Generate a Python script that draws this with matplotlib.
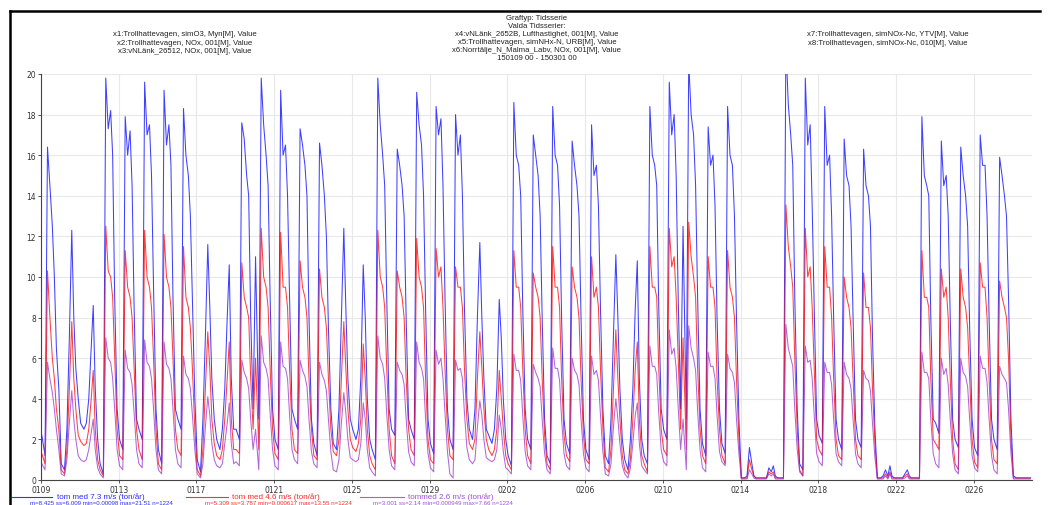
import numpy as np
import matplotlib.pyplot as plt
import matplotlib.dates as mdates
from matplotlib.lines import Line2D

# time series 150109 00 - 150301 00, values read per day at fixed hours
start = np.datetime64("2015-01-09T00:00")
end = np.datetime64("2015-03-01T00:00")
sample_hours = [1, 5, 8, 11, 14, 16.5, 19, 22]

# tom med 7.3 m/s (ton/år)
blue_73 = [
    [2.2, 1.2, 16.4, 14.5, 12.5, 10.0, 6.5, 4.5],
    [0.8, 0.5, 2.5, 7.0, 12.3, 8.0, 5.5, 4.0],
    [2.8, 2.5, 2.8, 4.0, 6.5, 8.6, 4.5, 2.0],
    [0.8, 0.3, 19.8, 17.3, 18.2, 16.0, 9.0, 3.5],
    [2.0, 1.5, 17.9, 16.0, 17.2, 14.5, 8.5, 3.0],
    [2.5, 2.0, 19.6, 17.0, 17.5, 15.0, 9.5, 3.5],
    [1.5, 0.8, 19.2, 16.5, 17.5, 15.5, 9.0, 3.5],
    [3.0, 2.5, 18.3, 16.0, 15.0, 13.0, 9.0, 4.0],
    [1.0, 0.4, 3.0, 7.0, 11.6, 8.5, 5.0, 3.0],
    [2.0, 1.5, 2.5, 4.5, 8.0, 10.6, 5.0, 2.5],
    [2.5, 2.0, 17.6, 16.8, 15.0, 14.0, 8.0, 3.5],
    [11.0, 3.0, 19.8, 17.5, 16.0, 14.5, 9.0, 3.5],
    [2.0, 1.5, 19.2, 16.0, 16.5, 14.0, 9.0, 3.5],
    [3.0, 2.5, 17.3, 16.5, 15.5, 14.0, 8.0, 3.0],
    [1.8, 1.2, 16.6, 15.5, 14.0, 12.0, 7.5, 3.5],
    [1.8, 1.5, 3.5, 8.0, 12.4, 8.5, 5.0, 3.0],
    [2.5, 2.0, 2.5, 5.0, 10.6, 8.0, 4.0, 2.0],
    [1.5, 1.0, 19.8, 17.5, 16.0, 14.5, 9.0, 3.5],
    [2.5, 2.2, 16.3, 15.5, 14.5, 13.0, 8.0, 3.0],
    [2.5, 2.0, 19.1, 17.5, 16.5, 14.0, 8.5, 3.0],
    [1.8, 1.3, 18.4, 17.0, 17.8, 14.5, 9.0, 3.5],
    [2.0, 1.5, 18.0, 16.0, 17.0, 14.0, 8.5, 4.0],
    [2.5, 2.0, 3.5, 8.0, 11.7, 8.0, 5.0, 2.5],
    [2.2, 1.8, 2.5, 4.5, 8.9, 7.0, 4.0, 2.0],
    [1.2, 0.7, 18.6, 16.0, 15.5, 14.0, 8.5, 3.5],
    [2.0, 1.5, 17.0, 16.0, 15.0, 13.0, 8.0, 3.0],
    [1.2, 0.8, 18.4, 16.0, 15.5, 13.5, 8.0, 3.0],
    [1.8, 1.3, 16.7, 15.5, 14.5, 13.0, 8.0, 3.0],
    [1.5, 1.0, 17.5, 15.0, 15.5, 13.5, 8.5, 3.5],
    [1.2, 0.8, 3.0, 7.0, 11.1, 8.0, 4.5, 2.0],
    [1.0, 0.5, 2.0, 4.5, 8.5, 10.8, 5.0, 2.0],
    [1.2, 0.8, 18.4, 16.0, 15.5, 14.5, 8.5, 3.5],
    [2.5, 2.0, 19.6, 17.0, 18.0, 15.0, 9.0, 3.5],
    [12.5, 3.0, 20.6, 18.0, 17.0, 14.5, 9.0, 3.5],
    [1.8, 1.2, 17.4, 15.5, 16.0, 13.5, 8.0, 3.5],
    [1.8, 1.3, 18.4, 16.0, 15.5, 13.0, 8.0, 3.0],
    [0.1, 0.1, 0.2, 1.6, 0.8, 0.2, 0.1, 0.1],
    [0.1, 0.1, 0.1, 0.6, 0.4, 0.7, 0.2, 0.1],
    [0.1, 0.1, 21.5, 18.5, 17.0, 15.5, 9.0, 3.5],
    [0.8, 0.5, 19.8, 16.5, 17.5, 13.5, 8.5, 3.0],
    [2.2, 1.8, 18.4, 15.5, 16.0, 13.0, 8.0, 3.0],
    [2.0, 1.5, 16.8, 15.0, 14.5, 12.5, 8.0, 3.0],
    [2.0, 1.6, 16.3, 14.5, 14.0, 12.5, 7.0, 2.5],
    [0.1, 0.1, 0.2, 0.5, 0.2, 0.7, 0.2, 0.1],
    [0.1, 0.1, 0.1, 0.3, 0.5, 0.2, 0.1, 0.1],
    [0.1, 0.1, 17.9, 15.0, 14.5, 14.0, 8.0, 3.0],
    [2.8, 2.3, 16.7, 14.5, 15.0, 13.0, 8.0, 3.0],
    [2.0, 1.6, 16.4, 15.0, 14.0, 12.5, 7.5, 3.0],
    [1.6, 1.2, 17.0, 15.5, 15.5, 13.0, 8.0, 3.0],
    [2.0, 1.5, 15.9, 15.0, 14.0, 13.0, 9.0, 3.0],
    [0.2, 0.1, 0.1, 0.1, 0.1, 0.1, 0.1, 0.1],
]

# tom med 4.6 m/s (ton/år)
red_46 = [
    [1.3, 0.8, 10.3, 8.0, 6.0, 5.0, 3.5, 2.5],
    [0.5, 0.3, 1.5, 4.5, 7.8, 5.0, 3.5, 2.2],
    [1.9, 1.7, 1.8, 2.5, 4.0, 5.4, 2.5, 1.0],
    [0.5, 0.2, 12.5, 10.3, 10.0, 9.0, 6.0, 2.5],
    [1.2, 1.0, 11.3, 9.5, 9.0, 8.0, 5.5, 2.5],
    [1.5, 1.0, 12.3, 10.0, 9.5, 8.5, 6.0, 2.5],
    [0.8, 0.5, 12.1, 10.0, 9.5, 8.5, 6.0, 2.5],
    [1.5, 1.2, 11.5, 9.0, 8.5, 7.5, 5.5, 2.5],
    [0.5, 0.2, 1.5, 4.5, 7.3, 5.5, 3.0, 1.8],
    [1.2, 1.0, 1.5, 3.0, 5.0, 6.8, 3.0, 1.5],
    [1.5, 1.3, 10.7, 9.0, 8.5, 8.0, 5.0, 2.5],
    [6.0, 1.5, 12.4, 10.0, 9.5, 8.5, 5.5, 2.5],
    [1.3, 1.0, 12.2, 9.5, 9.5, 8.5, 5.5, 2.5],
    [1.5, 1.3, 10.8, 9.5, 9.0, 8.0, 5.0, 2.5],
    [1.2, 1.0, 10.4, 9.0, 8.5, 7.5, 5.0, 2.5],
    [1.4, 1.2, 2.0, 5.0, 7.8, 5.5, 3.5, 2.0],
    [1.6, 1.4, 1.8, 3.0, 6.7, 5.0, 2.5, 1.2],
    [0.8, 0.5, 12.3, 10.0, 9.5, 8.5, 5.5, 2.5],
    [1.2, 0.8, 10.3, 9.5, 9.0, 8.0, 5.0, 2.5],
    [1.5, 1.2, 11.9, 10.0, 9.5, 8.5, 5.0, 2.0],
    [1.0, 0.8, 11.4, 10.0, 10.5, 8.5, 5.5, 2.5],
    [1.2, 1.0, 10.5, 9.5, 9.5, 8.5, 5.5, 3.0],
    [1.8, 1.5, 2.0, 5.0, 7.3, 5.5, 3.5, 2.0],
    [1.5, 1.2, 1.5, 2.5, 5.4, 4.0, 2.5, 1.2],
    [0.8, 0.5, 11.3, 9.5, 9.5, 8.5, 5.5, 2.5],
    [1.2, 0.8, 10.2, 9.5, 9.0, 8.0, 5.0, 2.2],
    [0.8, 0.5, 11.5, 9.5, 9.5, 8.5, 5.0, 2.2],
    [1.2, 0.9, 10.5, 9.5, 9.0, 8.0, 5.0, 2.2],
    [1.0, 0.8, 11.0, 9.0, 9.5, 8.5, 5.5, 2.5],
    [0.6, 0.4, 1.5, 4.5, 7.4, 5.0, 3.0, 1.2],
    [0.5, 0.3, 1.0, 3.0, 5.5, 6.8, 3.0, 1.2],
    [0.8, 0.4, 11.5, 9.5, 9.5, 9.0, 5.5, 2.5],
    [1.5, 1.2, 12.4, 10.5, 11.0, 9.0, 6.0, 2.5],
    [7.0, 1.5, 12.7, 11.0, 10.0, 9.0, 5.5, 2.5],
    [1.2, 0.8, 11.0, 9.5, 9.5, 8.5, 5.0, 2.5],
    [1.2, 0.8, 11.3, 9.5, 9.0, 8.0, 5.0, 2.0],
    [0.1, 0.1, 0.1, 1.0, 0.5, 0.2, 0.1, 0.1],
    [0.1, 0.1, 0.1, 0.4, 0.3, 0.4, 0.1, 0.1],
    [0.1, 0.1, 13.55, 11.5, 10.5, 9.5, 6.0, 2.5],
    [0.5, 0.2, 12.4, 10.0, 10.5, 8.5, 5.5, 2.0],
    [1.5, 1.2, 11.5, 9.5, 9.5, 8.0, 5.0, 2.0],
    [1.2, 1.0, 10.0, 9.0, 8.5, 7.5, 5.0, 2.0],
    [1.2, 1.0, 10.2, 8.5, 8.5, 7.5, 4.5, 1.8],
    [0.1, 0.1, 0.1, 0.3, 0.1, 0.4, 0.1, 0.1],
    [0.1, 0.1, 0.1, 0.2, 0.3, 0.1, 0.1, 0.1],
    [0.1, 0.1, 11.3, 9.0, 9.0, 8.5, 5.0, 2.0],
    [1.8, 1.5, 10.4, 9.0, 9.5, 8.0, 5.0, 2.0],
    [0.8, 0.5, 10.4, 9.0, 8.5, 7.5, 5.0, 2.0],
    [0.9, 0.6, 10.7, 9.5, 9.5, 8.0, 5.0, 2.0],
    [1.0, 0.8, 9.8, 9.0, 8.5, 8.0, 6.0, 2.0],
    [0.1, 0.1, 0.1, 0.1, 0.1, 0.1, 0.1, 0.1],
]

# tommed 2.6 m/s (ton/år)
purple_26 = [
    [0.8, 0.5, 5.8, 5.0, 4.3, 3.5, 2.5, 1.5],
    [0.3, 0.2, 1.0, 2.8, 4.4, 3.0, 2.0, 1.2],
    [1.0, 0.9, 1.0, 1.5, 2.3, 3.0, 1.5, 0.6],
    [0.3, 0.1, 7.0, 6.0, 5.8, 5.0, 3.5, 1.5],
    [0.7, 0.5, 6.4, 5.5, 5.3, 4.7, 3.3, 1.5],
    [0.8, 0.6, 6.9, 5.8, 5.6, 5.0, 3.5, 1.5],
    [0.5, 0.3, 6.8, 5.7, 5.5, 5.0, 3.5, 1.5],
    [0.8, 0.6, 6.1, 5.2, 5.0, 4.5, 3.2, 1.5],
    [0.3, 0.1, 0.8, 2.6, 4.1, 3.2, 1.8, 1.0],
    [0.7, 0.6, 0.8, 1.8, 2.8, 3.8, 1.8, 0.8],
    [0.9, 0.7, 5.9, 5.3, 5.0, 4.5, 3.0, 1.5],
    [2.5, 0.5, 7.1, 5.8, 5.5, 5.0, 3.3, 1.5],
    [0.7, 0.5, 6.8, 5.6, 5.5, 5.0, 3.2, 1.5],
    [1.0, 0.8, 5.9, 5.4, 5.1, 4.6, 3.0, 1.4],
    [0.8, 0.6, 5.8, 5.2, 4.9, 4.4, 3.0, 1.4],
    [0.5, 0.4, 1.0, 2.8, 4.3, 3.3, 2.0, 1.1],
    [1.0, 0.9, 1.0, 1.8, 3.8, 3.0, 1.5, 0.6],
    [0.4, 0.2, 7.1, 6.0, 5.7, 5.0, 3.3, 1.5],
    [0.7, 0.5, 5.8, 5.4, 5.2, 4.7, 3.0, 1.4],
    [0.9, 0.7, 6.8, 5.8, 5.5, 5.0, 3.0, 1.3],
    [0.6, 0.4, 6.4, 5.7, 6.0, 5.0, 3.3, 1.4],
    [0.3, 0.1, 5.9, 5.4, 5.5, 5.0, 3.3, 1.6],
    [1.0, 0.8, 1.0, 2.6, 3.9, 3.2, 2.0, 1.1],
    [1.0, 0.9, 1.0, 1.5, 3.2, 2.5, 1.4, 0.6],
    [0.5, 0.3, 6.2, 5.4, 5.4, 4.9, 3.2, 1.4],
    [0.7, 0.5, 5.7, 5.3, 5.0, 4.6, 3.0, 1.3],
    [0.5, 0.3, 6.5, 5.5, 5.5, 4.9, 3.0, 1.3],
    [0.7, 0.5, 6.0, 5.4, 5.2, 4.7, 3.0, 1.3],
    [0.6, 0.4, 6.1, 5.2, 5.4, 4.9, 3.2, 1.4],
    [0.3, 0.2, 0.8, 2.6, 4.0, 3.0, 1.8, 0.7],
    [0.3, 0.1, 0.6, 1.8, 3.2, 3.8, 1.8, 0.7],
    [0.5, 0.3, 6.6, 5.6, 5.6, 5.2, 3.3, 1.5],
    [0.9, 0.7, 7.4, 6.2, 6.5, 5.5, 3.6, 1.5],
    [3.0, 0.5, 7.6, 6.5, 6.0, 5.4, 3.4, 1.5],
    [0.6, 0.4, 6.3, 5.6, 5.6, 5.0, 3.2, 1.4],
    [0.9, 0.7, 6.2, 5.5, 5.3, 4.8, 3.0, 1.3],
    [0.05, 0.05, 0.05, 0.5, 0.3, 0.1, 0.05, 0.05],
    [0.05, 0.05, 0.05, 0.3, 0.2, 0.3, 0.05, 0.05],
    [0.05, 0.05, 7.66, 6.5, 6.0, 5.6, 3.5, 1.5],
    [0.4, 0.2, 6.6, 5.8, 5.9, 5.0, 3.2, 1.3],
    [0.9, 0.7, 5.8, 5.3, 5.3, 4.7, 3.0, 1.3],
    [0.9, 0.7, 5.8, 5.2, 5.0, 4.5, 3.0, 1.3],
    [0.8, 0.6, 5.4, 5.0, 4.9, 4.4, 2.8, 1.1],
    [0.05, 0.05, 0.05, 0.2, 0.05, 0.3, 0.05, 0.05],
    [0.05, 0.05, 0.05, 0.1, 0.2, 0.05, 0.05, 0.05],
    [0.05, 0.05, 6.3, 5.3, 5.3, 5.0, 3.0, 1.3],
    [0.8, 0.6, 6.0, 5.2, 5.5, 4.7, 3.0, 1.3],
    [0.5, 0.3, 6.0, 5.3, 5.1, 4.6, 3.0, 1.2],
    [0.6, 0.4, 6.1, 5.5, 5.5, 4.8, 3.0, 1.2],
    [0.5, 0.3, 5.6, 5.2, 5.0, 4.8, 3.5, 1.3],
    [0.05, 0.05, 0.05, 0.05, 0.05, 0.05, 0.05, 0.05],
]

series_labels = ["tom med 7.3 m/s (ton/år)", "tom med 4.6 m/s (ton/år)", "tommed 2.6 m/s (ton/år)"]
series_stats = ["m=8.425 ss=6.009 min=0.00098 max=21.51 n=1224",
                "m=5.309 ss=3.787 min=0.000617 max=13.55 n=1224",
                "m=3.001 ss=2.14 min=0.000949 max=7.66 n=1224"]
colors = ["#0000ff", "#ff0000", "#9933cc"]
text_colors = ["#2b2bff", "#ff2b2b", "#a050d8"]

# timestamps for each reading
n_days = len(blue_73)
minutes = (np.arange(n_days)[:, None] * 1440 + np.array(sample_hours)[None, :] * 60).astype(int)
times = start + minutes.ravel().astype("timedelta64[m]")

W, H = 1050, 506
fig = plt.figure(figsize=(W / 100, H / 100), dpi=100)
ax = fig.add_axes([41 / W, 1 - 481 / H, (1032 - 41) / W, (481 - 75) / H])

for data, c in zip([blue_73, red_46, purple_26], colors):
    ax.plot(times, np.array(data).ravel(), color=c, lw=0.75, alpha=0.75)

ax.set_xlim(start, end)
ax.set_ylim(0, 20)
ax.set_yticks(np.arange(0, 21, 2))
xt = start + np.arange(0, 49, 4).astype("timedelta64[D]")
ax.set_xticks(xt)
ax.xaxis.set_major_formatter(mdates.DateFormatter("%m%d"))
ax.tick_params(labelsize=5.5, colors="#333333", length=2.5, width=0.6, pad=1.0)
ax.grid(color="#e8e8e8", lw=0.8)
ax.set_axisbelow(True)
for s in ["top", "right"]:
    ax.spines[s].set_visible(False)
for s in ["left", "bottom"]:
    ax.spines[s].set_color("#444444")
    ax.spines[s].set_linewidth(0.8)

# frame lines (left and top)
fig.add_artist(Line2D([10 / W, 10 / W], [0, 1 - 12 / H], color="black", lw=1.8))
fig.add_artist(Line2D([10 / W, 1040 / W], [1 - 12 / H, 1 - 12 / H], color="black", lw=1.8))

hdr = dict(ha="center", va="center", fontsize=5.6, color="#222222",
           family=["Liberation Sans Narrow", "Liberation Sans", "DejaVu Sans"])
mid = ["Graftyp: Tidsserie", "Valda Tidsserier:",
       "x4:vNLänk_2652B, Lufthastighet, 001[M], Value",
       "x5:Trollhattevagen, simNHx-N, URB[M], Value",
       "x6:Norrtälje_N_Malma_Labv, NOx, 001[M], Value",
       "150109 00 - 150301 00"]
left = ["x1:Trollhattevagen, simO3, Myn[M], Value",
        "x2:Trollhattevagen, NOx, 001[M], Value",
        "x3:vNLänk_26512, NOx, 001[M], Value"]
right = ["x7:Trollhattevagen, simNOx-Nc, YTV[M], Value",
         "x8:Trollhattevagen, simNOx-Nc, 010[M], Value"]
for i, s in enumerate(mid):
    fig.text(537 / W, 1 - (18 + 8.2 * i) / H, s, **hdr)
for i, s in enumerate(left):
    fig.text(185 / W, 1 - (35 + 8.2 * i) / H, s, **hdr)
for i, s in enumerate(right):
    fig.text(888 / W, 1 - (35 + 8.2 * i) / H, s, **hdr)

# legend row and stats row
leg_x = [(10, 52, 57), (186, 228, 232), (360, 404, 408)]
for (x0, x1, xt0), lab, c, tc in zip(leg_x, series_labels, colors, text_colors):
    fig.add_artist(Line2D([x0 / W, x1 / W], [1 - 497.5 / H] * 2, color=c, lw=0.8, alpha=0.8))
    fig.text(xt0 / W, 1 - 497.5 / H, lab, ha="left", va="center", fontsize=5.8, color=tc,
             family=["Liberation Sans", "DejaVu Sans"])
stat_x = [30, 205, 373]
for x0, s, tc in zip(stat_x, series_stats, text_colors):
    fig.text(x0 / W, 1 - 503.5 / H, s, ha="left", va="center", fontsize=4.4, color=tc,
             family=["Liberation Sans Narrow", "Liberation Sans", "DejaVu Sans"])

fig.savefig("out.png", dpi=100)
